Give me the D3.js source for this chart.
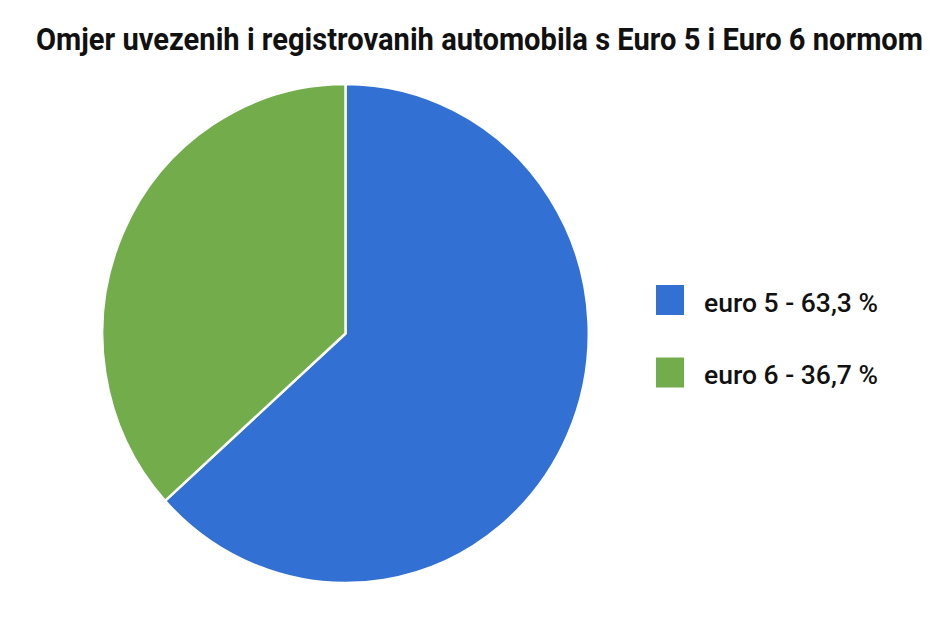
<!DOCTYPE html>
<html>
<head>
<meta charset="utf-8">
<script src="https://cdn.jsdelivr.net/npm/d3@7"></script>
<style>
  html, body { margin: 0; padding: 0; background: #fff; }
  svg { display: block; font-family: Roboto, "Liberation Sans", sans-serif; }
</style>
</head>
<body>
<div id="chart"></div>
<script>
const title = "Omjer uvezenih i registrovanih automobila s Euro 5 i Euro 6 normom";
const categories = ["euro 5", "euro 6"];
const shares = [63.3, 36.7];
const colors = ["#3370d4", "#73ac4b"];

const width = 936, height = 624;

const svg = d3.select("#chart")
  .append("svg")
    .attr("width", width)
    .attr("height", height);

svg.append("text")
  .attr("x", 36)
  .attr("y", 50)
  .attr("textLength", 887)
  .attr("lengthAdjust", "spacingAndGlyphs")
  .attr("font-size", 32)
  .attr("font-weight", "bold")
  .attr("fill", "#111")
  .text(title);

// pie, slightly narrower than tall like the original
const radius = 249.5;
const g = svg.append("g")
  .attr("transform", "translate(345.5,333.5) scale(0.975,1)");

const pie = d3.pie().sort(null).value(d => d)(shares);
const arc = d3.arc().innerRadius(0).outerRadius(radius);

g.selectAll("path")
  .data(pie)
  .join("path")
    .attr("d", arc)
    .attr("fill", (d, i) => colors[i])
    .attr("stroke", "#fff")
    .attr("stroke-width", 2.5)
    .attr("stroke-linejoin", "round");

// legend
const fmt = v => v.toFixed(1).replace(".", ",");
const legend = svg.append("g")
  .attr("transform", "translate(656,285)");

const item = legend.selectAll("g")
  .data(categories)
  .join("g")
    .attr("transform", (d, i) => `translate(0,${i * 72.5})`);

item.append("rect")
  .attr("width", 28)
  .attr("height", 30)
  .attr("fill", (d, i) => colors[i]);

item.append("text")
  .attr("x", 48)
  .attr("y", 26.5)
  .attr("font-size", 26)
  .attr("font-weight", 500)
  .attr("fill", "#111")
  .attr("textLength", 174)
  .attr("lengthAdjust", "spacingAndGlyphs")
  .text((d, i) => `${d} - ${fmt(shares[i])} %`);
</script>
</body>
</html>
